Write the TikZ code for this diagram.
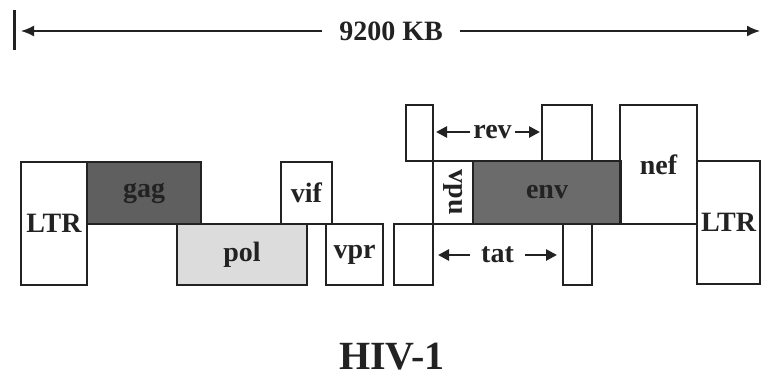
\documentclass[tikz,border=0pt]{standalone}
\usepackage{fontspec}
\setmainfont{Liberation Serif}
\usetikzlibrary{arrows.meta}
\definecolor{ink}{HTML}{222222}
\definecolor{darkgene}{HTML}{5F5F5F}
\definecolor{envgene}{HTML}{6B6B6B}
\definecolor{lightgene}{HTML}{DCDCDC}
\begin{document}
\begin{tikzpicture}[x=1pt, y=-1pt, every node/.style={align=center, inner sep=0pt, outer sep=0pt, text=ink, font=\bfseries\fontsize{28}{30}\selectfont}]
\tikzset{
  gene/.style={draw=ink, line width=1.6pt},
  span/.style={-{Triangle[length=11pt,width=11pt]}, line width=2.6pt, draw=ink},
  ruler/.style={-{Latex[length=13pt,width=11pt]}, line width=1.6pt, draw=ink}
}
\useasboundingbox (0,0) rectangle (761,376);

\coordinate (bartop) at (14,10);
\coordinate (barbot) at (14,50);
\coordinate (lend) at (21,31);
\coordinate (rend) at (760,31);
\draw[ink, line width=3pt] (bartop) -- (barbot);
\node (size) at (391,31) {9200 KB};
\draw[ruler, shorten <=17pt] (size.west) -- (lend);
\draw[ruler, shorten <=17pt] (size.east) -- (rend);

\node[gene, minimum width=66pt, minimum height=123pt] (ltrL) at (54,223.5) {LTR};
\node[gene, fill=darkgene, minimum width=114pt, minimum height=62pt] (gag) at (144,193) {gag};
\node[gene, fill=lightgene, minimum width=130pt, minimum height=61pt] (pol) at (242,254.5) {pol};
\node[gene, minimum width=51pt, minimum height=62pt] (vif) at (306.5,193) {vif};
\node[gene, minimum width=57pt, minimum height=61pt] (vpr) at (354.5,254.5) {vpr};

\node[gene, minimum width=27pt, minimum height=56pt] (revA) at (419.5,133) {};
\node[gene, minimum width=39pt, minimum height=61pt] (tatA) at (413.5,254.5) {};
\node[gene, minimum width=40pt, minimum height=63pt] (vpu) at (453,192.5) {\rotatebox{-90}{vpu}};
\node[gene, fill=envgene, minimum width=148pt, minimum height=63pt] (env) at (547,192.5) {env};
\node[gene, minimum width=50pt, minimum height=56pt] (revB) at (567,133) {};
\node[gene, minimum width=29pt, minimum height=61pt] (tatB) at (577.5,254.5) {};
\node[gene, minimum width=77pt, minimum height=119pt] (nef) at (658.5,164.5) {nef};
\node[gene, minimum width=63pt, minimum height=123pt] (ltrR) at (728.5,222.5) {LTR};

\node (rev) at (492.5,132) {rev};
\draw[span, shorten <=3pt, shorten >=3pt] (rev.west) -- (rev.west -| revA.east);
\draw[span, shorten <=3pt, shorten >=2pt] (rev.east) -- (rev.east -| revB.west);
\node (tat) at (497.5,255) {tat};
\draw[span, shorten <=11pt, shorten >=5pt] (tat.west) -- (tat.west -| tatA.east);
\draw[span, shorten <=11pt, shorten >=6pt] (tat.east) -- (tat.east -| tatB.west);

\node[font=\bfseries\fontsize{40}{44}\selectfont] (virus) at (392,357) {HIV-1};
\end{tikzpicture}
\end{document}
